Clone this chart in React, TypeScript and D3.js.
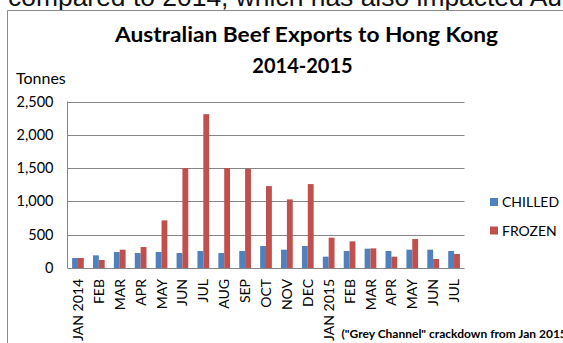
import React from "react";
import * as d3 from "d3";

const categories = ["JAN 2014", "FEB", "MAR", "APR", "MAY", "JUN", "JUL", "AUG", "SEP", "OCT", "NOV", "DEC", "JAN 2015", "FEB", "MAR", "APR", "MAY", "JUN", "JUL"];
const chilled = [150, 190, 240, 225, 240, 225, 255, 225, 255, 330, 275, 330, 170, 255, 290, 255, 275, 275, 255];
const frozen = [150, 120, 275, 315, 715, 1500, 2310, 1500, 1490, 1230, 1030, 1260, 455, 400, 295, 170, 435, 135, 210];
const seriesNames = ["CHILLED", "FROZEN"];
const seriesColors = ["#4F81BD", "#C0504D"];
const yTicks = [0, 500, 1000, 1500, 2000, 2500];

const W = 563;
const H = 343;
const FONT = "Lato, 'Noto Sans', sans-serif";

export default function App() {
  const left = 67.5, right = 464.5, top = 101.5, bottom = 268;
  const x0 = d3.scaleBand<number>().domain(categories.map((_, i) => i)).range([left, right]).paddingInner(0.44).paddingOuter(0.22);
  const x1 = d3.scaleBand<string>().domain(seriesNames).range([0, x0.bandwidth()]);
  const y = d3.scaleLinear().domain([0, 2500]).range([bottom, top]);
  const fmt = d3.format(",");
  const series = [chilled, frozen];

  return (
    <div style={{ position: "absolute", left: 0, top: 0, width: W, height: H, background: "#fff" }}>
      <svg width={W} height={H} style={{ display: "block" }}>
        <rect x={0} y={0} width={W} height={H} fill="#fff" />
        <text x={8} y={6} fontFamily="'Liberation Sans', Arial, sans-serif" fontSize={26} textLength={554} lengthAdjust="spacingAndGlyphs" fill="#111">compared to 2014, which has also impacted Au</text>
        {/* chart frame */}
        <line x1={7.5} y1={10.5} x2={W} y2={10.5} stroke="#8a8a8a" />
        <line x1={7.5} y1={10.5} x2={7.5} y2={H} stroke="#8a8a8a" />
        {/* title */}
        <text x={306.5} y={41.5} textAnchor="middle" fontFamily={FONT} fontWeight="bold" fontSize={20} textLength={383} lengthAdjust="spacingAndGlyphs" fill="#000">Australian  Beef Exports to Hong Kong</text>
        <text x={302.5} y={73} textAnchor="middle" fontFamily={FONT} fontWeight="bold" fontSize={20} fill="#000">2014-2015</text>
        <text x={16} y={84} fontFamily={FONT} fontSize={16} fill="#000">Tonnes</text>
        {/* gridlines */}
        {yTicks.map((t) => (
          <g key={t}>
            {t > 0 && <line x1={left} x2={right} y1={Math.round(y(t)) + 0.5} y2={Math.round(y(t)) + 0.5} stroke="#868686" />}
            <text x={53.5} y={y(t)} dy="0.35em" textAnchor="end" fontFamily={FONT} fontSize={14.5} fill="#000">{fmt(t)}</text>
          </g>
        ))}
        {/* bars */}
        {categories.map((c, i) => (
          <g key={i} transform={`translate(${x0(i)},0)`}>
            {series.map((s, j) => (
              <rect key={j} x={x1(seriesNames[j])} y={y(s[i])} width={x1.bandwidth()} height={bottom - y(s[i])} fill={seriesColors[j]} />
            ))}
          </g>
        ))}
        {/* axes */}
        <line x1={left} x2={left} y1={top} y2={bottom} stroke="#868686" />
        <line x1={left} x2={right} y1={bottom + 0.5} y2={bottom + 0.5} stroke="#868686" />
        {/* x labels */}
        {categories.map((c, i) => (
          <text key={i} transform={`translate(${x0(i)! + x0.bandwidth() / 2},279) rotate(-90)`} dy="0.36em" textAnchor="end" fontFamily={FONT} fontSize={14} fill="#000">{c}</text>
        ))}
        {/* legend */}
        {seriesNames.map((n, j) => (
          <g key={n} transform={`translate(490,${198 + j * 28.5})`}>
            <rect x={0} y={0} width={8} height={8} fill={seriesColors[j]} />
            <text x={12} y={4} dy="0.36em" fontFamily={FONT} fontSize={14} fill="#000">{n}</text>
          </g>
        ))}
        <text x={341.5} y={338} fontFamily={FONT} fontWeight="bold" fontSize={12} fill="#000">("Grey Channel" crackdown from Jan 2015</text>
      </svg>
    </div>
  );
}
